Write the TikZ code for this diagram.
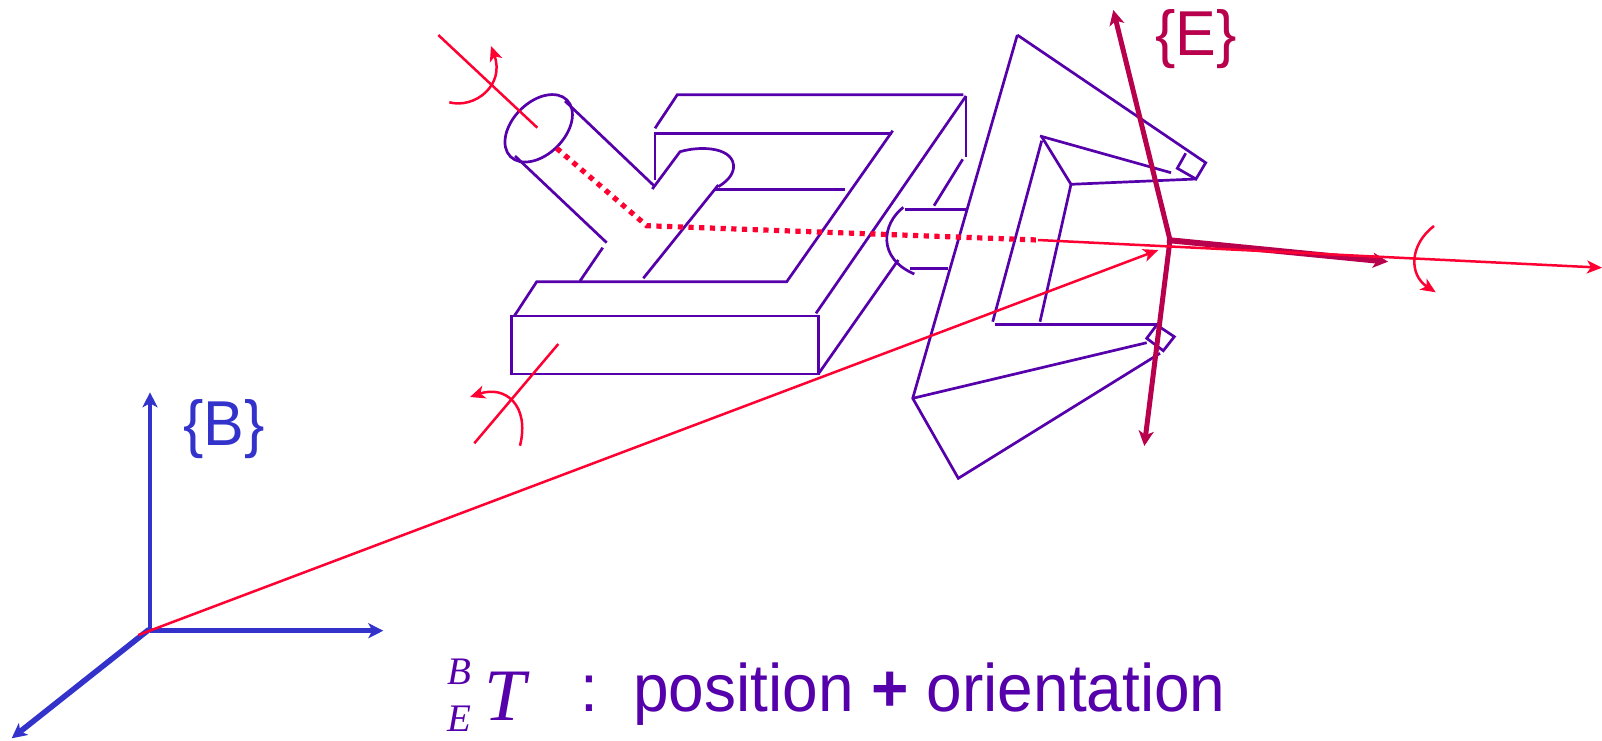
\documentclass[tikz,border=0pt]{standalone}
\usepackage{fontspec}
\setmainfont{Liberation Sans}
\newfontfamily\timesfont{Liberation Serif}
\usetikzlibrary{arrows.meta}
\definecolor{robotpurple}{HTML}{5500AA}
\definecolor{axisred}{HTML}{FF0033}
\definecolor{frameblue}{HTML}{3333CC}
\definecolor{framecrimson}{HTML}{B8004C}
\tikzset{
  body/.style={draw=robotpurple,line width=2.7pt,line join=miter},
  redline/.style={draw=axisred,line width=2.5pt},
  redhead/.style={redline,-{Stealth[length=15pt,width=13pt,inset=4pt]}},
  reddots/.style={draw=axisred,line width=5.2pt,dash pattern=on 5.2pt off 5.5pt},
  baseaxis/.style={draw=frameblue,-{Stealth[length=15pt,width=15pt,inset=4pt]}},
  endaxis/.style={draw=framecrimson,-{Stealth[length=15pt,width=15pt,inset=4pt]}},
  label/.style={inner sep=0pt,anchor=base west}
}
\begin{document}
\begin{tikzpicture}[x=1pt,y=-1pt]
\useasboundingbox (0,0) rectangle (1602,740);
% named points
\coordinate (bo) at (150,630.7);
\coordinate (bup) at (150,392.3);
\coordinate (bright) at (383.3,630.7);
\coordinate (bdiag) at (11.7,738.3);
\coordinate (eo) at (1170,240);
\coordinate (eup) at (1113.3,10);
\coordinate (edown) at (1144.3,446);
\coordinate (eright) at (1388,261.7);
% base block
\draw[body] (511.7,316) rectangle (818.3,374);
\draw[body] (514.3,316) -- (536.7,281.7) -- (786.7,281.7) -- (892.7,130.7);
\draw[body] (655,180) -- (655,133.3) -- (891.7,133.3);
\draw[body] (655,128.3) -- (677.3,94.7) -- (963.3,94.7);
\draw[body] (966,96) -- (966,156.7);
\draw[body] (966,96) -- (816,313.3);
\draw[body] (818.3,374) -- (898.3,260);
\draw[body] (602.7,247.7) -- (580,281);
\draw[body] (643.3,278.3) -- (718.3,185);
\draw[body] (715,189.3) -- (845,189.3);
\draw[body] (652.3,189) -- (680,151.7) .. controls (703,145) and (735,148) .. (733.5,168) .. controls (732.5,176) and (726,182) .. (718.3,186.7);
% cylinder
\draw[body] (538.7,128.3) ellipse[x radius=40pt,y radius=26pt,rotate=45];
\draw[body] (565,101) -- (655,186.7);
\draw[body] (515,156) -- (606.7,242.7);
% wrist joint
\draw[body] (903.3,207.3) .. controls (882,224) and (877,258) .. (914.3,274);
\draw[body] (905,209.3) -- (966,209.3);
\draw[body] (910,268.3) -- (948.3,268.3);
\draw[body] (934,205.7) -- (962.7,159.3);
% gripper
\draw[body] (1017.3,35) -- (912.7,398.3) -- (958.3,478.3) -- (1160,353.3);
\draw[body] (912.7,398.3) -- (1146.7,342.7);
\draw[body] (995,324.3) -- (1156.7,324.3);
\draw[body] (992.7,321.7) -- (1041.7,140.7);
\draw[body] (1040,321.7) -- (1071,184.3);
\draw[body] (1071,184.3) -- (1196,179);
\draw[body] (1071,184.3) -- (1041.7,136.7);
\draw[body] (1040,136) -- (1171,172.7);
\draw[body] (1017.3,35) -- (1205.7,162.7) -- (1196,179) -- (1177.3,168.3) -- (1185.7,153.3);
\draw[body] (1156.7,325) -- (1174.3,336.7) -- (1163.3,350.7) -- (1146.7,338.3) -- cycle;
% red axes and dotted link
\draw[redline] (438.3,35) -- (537.3,127.7);
\draw[redhead] (449.3,102.3) .. controls (475,109) and (505,85) .. (491,46);
\draw[redline] (558.3,344) -- (474.3,443.3);
\draw[redhead] (520,445.7) .. controls (530,405) and (505,385) .. (470,397);
\draw[reddots] (556.7,148.3) -- (646.7,225.7) -- (1038,240);
% end-effector frame
\draw[endaxis,line width=5pt] (eo) -- (eup);
\draw[endaxis,line width=5pt] (eo) -- (edown);
\draw[endaxis,line width=6pt] (1167,240) -- (eright);
\draw[redhead] (1038,240) -- (1602,267.7);
\draw[redhead] (1434,226) .. controls (1409,245) and (1409,275) .. (1435.7,292.3);
% base frame
\draw[baseaxis,line width=4.8pt] (bo) -- (bup);
\draw[baseaxis,line width=4.6pt] (bo) -- (bright);
\draw[baseaxis,line width=5.6pt] (149,629.5) -- (bdiag);
\draw[redhead] (138.3,635) -- (1158.3,250);
% labels
\node[label,text=frameblue,font=\fontsize{61}{61}\selectfont,yscale=1.04] (blabel) at (183,445) {\{B\}};
\node[label,text=framecrimson,font=\fontsize{61}{61}\selectfont,yscale=1.04] (elabel) at (1155,55) {\{E\}};
\node[label,text=robotpurple,font=\timesfont\itshape\fontsize{39}{39}\selectfont] (tb) at (447,684) {B};
\node[label,text=robotpurple,font=\timesfont\itshape\fontsize{39}{39}\selectfont] (te) at (447,731) {E};
\node[label,text=robotpurple,font=\timesfont\itshape\fontsize{74}{74}\selectfont] (tt) at (484,720) {T};
\node[label,text=robotpurple,font=\fontsize{64}{64}\selectfont,yscale=1.05] (tc) at (580,711) {:};
\node[label,text=robotpurple,font=\fontsize{64}{64}\selectfont,yscale=1.05] (tx) at (633,711) {position \textbf{+} orientation};
\end{tikzpicture}
\end{document}
